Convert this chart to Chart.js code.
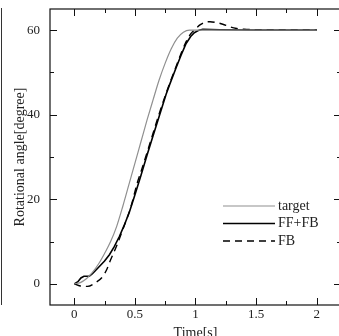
<!DOCTYPE html>
<html>
<head>
<meta charset="utf-8">
<script src="https://cdn.jsdelivr.net/npm/chart.js@4/dist/chart.umd.min.js"></script>
<style>
    html, body { margin: 0; padding: 0; background: #fff; overflow: hidden; }
    #wrap { position: relative; width: 346px; height: 342px; }
    #edge { position: absolute; left: 1px; top: 8px; height: 297px; border-left: 1px solid #333; }
</style>
</head>
<body>
<div id="wrap">
    <canvas id="angleChart" width="346" height="342"></canvas>
    <div id="edge"></div>
</div>
<script>
const targetTime  = [0, 0.05, 0.1, 0.15, 0.2, 0.25, 0.3, 0.35, 0.4, 0.45, 0.5, 0.55, 0.6, 0.65, 0.7, 0.75, 0.8, 0.85, 0.9, 0.95, 1.0, 1.5, 2.0];
const targetAngle = [0, 0.3, 1.2, 2.7, 4.7, 7.2, 10.0, 13.6, 18.3, 23.4, 28.5, 33.6, 38.7, 43.5, 48.2, 52.2, 55.6, 58.1, 59.5, 60, 60, 60, 60];

const ffTime  = [0, 0.03, 0.055, 0.08, 0.124, 0.15, 0.207, 0.25, 0.29, 0.33, 0.372, 0.41, 0.455, 0.5, 0.55, 0.6, 0.65, 0.7, 0.757, 0.785, 0.84, 0.88, 0.92, 0.96, 0.99, 1.03, 1.06, 1.2, 1.5, 2.0];
const ffAngle = [0, 0.5, 1.4, 1.8, 1.8, 2.4, 4.1, 5.4, 6.9, 8.8, 11.2, 13.7, 17.0, 21.0, 25.6, 30.4, 35.0, 39.6, 44.8, 47.0, 51.1, 54.0, 56.7, 58.5, 59.4, 60.0, 60.2, 60.1, 60.0, 60.0];

const fbTime  = [0, 0.05, 0.11, 0.17, 0.234, 0.27, 0.3, 0.35, 0.4, 0.468, 0.52, 0.55, 0.6, 0.65, 0.7, 0.757, 0.8, 0.84, 0.88, 0.92, 0.96, 1.0, 1.04, 1.08, 1.12, 1.17, 1.225, 1.28, 1.34, 1.4, 1.6, 2.0];
const fbAngle = [0, -0.5, -0.6, 0.2, 1.7, 3.5, 5.7, 9.0, 12.8, 18.3, 23.9, 26.5, 31.0, 35.6, 40.2, 45.0, 48.4, 51.4, 54.4, 57.1, 59.1, 60.3, 61.3, 61.9, 62.0, 61.8, 61.4, 60.8, 60.4, 60.2, 60.1, 60.1];

const xTicks = [0, 0.5, 1, 1.5, 2];
const xMinorTicks = [0.25, 0.75, 1.25, 1.75];
const yTicks = [0, 20, 40, 60];
const yMinorTicks = [10, 30, 50];

const serif = '"Liberation Serif", "Times New Roman", serif';
const toPoints = (xs, ys) => xs.map((t, i) => ({ x: t, y: ys[i] }));

// frame on all four sides with inward ticks, plus the legend inside the plot
const frameTicks = {
    id: 'frameTicks',
    afterDraw(chart) {
        const { ctx, chartArea: a, scales: { x, y } } = chart;
        ctx.save();
        ctx.strokeStyle = '#111';
        ctx.lineWidth = 1.2;
        ctx.strokeRect(a.left, a.top, a.right - a.left, a.bottom - a.top);

        ctx.lineWidth = 1;
        ctx.beginPath();
        const tickX = (v, len) => {
            const px = Math.round(x.getPixelForValue(v)) + 0.5;
            ctx.moveTo(px, a.bottom); ctx.lineTo(px, a.bottom - len);
            ctx.moveTo(px, a.top); ctx.lineTo(px, a.top + len);
        };
        const tickY = (v, len) => {
            const py = Math.round(y.getPixelForValue(v)) + 0.5;
            ctx.moveTo(a.left, py); ctx.lineTo(a.left + len, py);
            ctx.moveTo(a.right, py); ctx.lineTo(a.right - len, py);
        };
        xTicks.forEach(v => tickX(v, 7));
        xMinorTicks.forEach(v => tickX(v, 4));
        yTicks.forEach(v => tickY(v, 7));
        yMinorTicks.forEach(v => tickY(v, 4));
        ctx.stroke();

        // legend
        ctx.font = '14px ' + serif;
        ctx.textBaseline = 'middle';
        ctx.fillStyle = '#222';
        chart.data.datasets.forEach((ds, i) => {
            const ly = a.bottom - 99 + i * 17.5;
            ctx.beginPath();
            ctx.strokeStyle = ds.borderColor;
            ctx.lineWidth = ds.borderWidth;
            ctx.setLineDash(ds.borderDash || []);
            ctx.moveTo(a.right - 118, ly);
            ctx.lineTo(a.right - 66, ly);
            ctx.stroke();
            ctx.setLineDash([]);
            ctx.fillText(ds.label, a.right - 63, ly);
        });
        ctx.restore();
    }
};

const ctx = document.getElementById('angleChart').getContext('2d');

new Chart(ctx, {
    type: 'line',
    data: {
        datasets: [{
            label: 'target',
            data: toPoints(targetTime, targetAngle),
            borderColor: '#8f8f8f',
            borderWidth: 1.2,
            cubicInterpolationMode: 'monotone'
        }, {
            label: 'FF+FB',
            data: toPoints(ffTime, ffAngle),
            borderColor: '#000',
            borderWidth: 1.6
        }, {
            label: 'FB',
            data: toPoints(fbTime, fbAngle),
            borderColor: '#000',
            borderWidth: 1.4,
            borderDash: [7, 5],
            cubicInterpolationMode: 'monotone'
        }]
    },
    options: {
        responsive: false,
        animation: false,
        layout: { padding: { top: 9, right: 5, left: 0, bottom: 0 } },
        elements: { point: { radius: 0 } },
        plugins: {
            legend: { display: false },
            tooltip: { enabled: false }
        },
        scales: {
            x: {
                type: 'linear',
                min: -0.2,
                max: 2.2,
                grid: { display: false, drawTicks: false },
                border: { display: false },
                afterBuildTicks: scale => { scale.ticks = xTicks.map(v => ({ value: v })); },
                afterFit: scale => {
                    scale.height = 37;
                    scale.paddingLeft = 0;
                    scale.paddingRight = 0;
                },
                ticks: {
                    color: '#222',
                    padding: 2,
                    maxRotation: 0,
                    font: { family: serif, size: 13 },
                    callback: v => String(v)
                },
                title: {
                    display: true,
                    text: 'Time[s]',
                    color: '#222',
                    padding: 0,
                    font: { family: serif, size: 14 }
                }
            },
            y: {
                min: -5,
                max: 65,
                grid: { display: false, drawTicks: false },
                border: { display: false },
                afterBuildTicks: scale => { scale.ticks = yTicks.map(v => ({ value: v })); },
                afterFit: scale => {
                    scale.width = 50;
                    scale.paddingTop = 0;
                    scale.paddingBottom = 0;
                },
                ticks: {
                    color: '#222',
                    padding: 10,
                    font: { family: serif, size: 13 },
                    callback: v => String(v)
                },
                title: {
                    display: true,
                    text: 'Rotational angle[degree]',
                    color: '#222',
                    padding: { top: 11.6, bottom: 0 },
                    font: { family: serif, size: 14 }
                }
            }
        }
    },
    plugins: [frameTicks]
});
</script>
</body>
</html>
